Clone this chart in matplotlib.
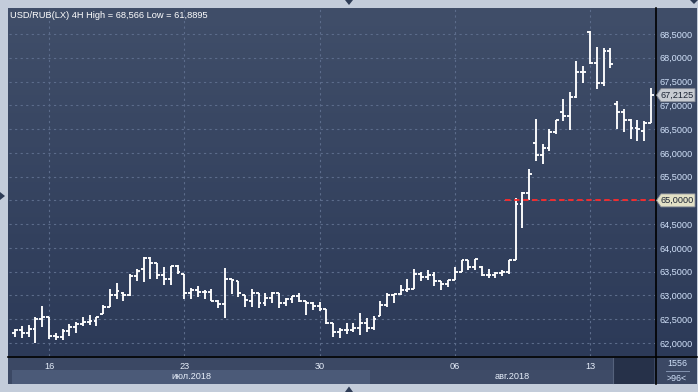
import numpy as np
import matplotlib
matplotlib.use("Agg")
import matplotlib.pyplot as plt
from matplotlib import transforms
from matplotlib.patches import Polygon, Rectangle
from matplotlib.ticker import FuncFormatter

plt.rcParams['font.family'] = ['Liberation Sans', 'DejaVu Sans']

# ---------------- data ----------------
opens = [62.22, 62.27, 62.22, 62.30, 62.50, 62.55, 62.15, 62.13, 62.25, 62.33,
         62.40, 62.45, 62.47, 62.62, 62.76, 63.00, 63.06, 63.00, 63.41, 63.55,
         63.78, 63.69, 63.43, 63.35, 63.63, 63.45, 63.05, 63.12, 63.07, 63.07,
         62.89, 62.82, 63.34, 63.30, 63.00, 62.89, 63.05, 62.84, 62.94, 63.05,
         62.84, 62.92, 62.99, 62.89, 62.84, 62.77, 62.72, 62.42, 62.24, 62.28,
         62.28, 62.31, 62.43, 62.31, 62.56, 62.80, 63.01, 63.04, 63.11, 63.14,
         63.46, 63.39, 63.44, 63.30, 63.25, 63.33, 63.49, 63.75, 63.60, 63.60,
         63.42, 63.42, 63.47, 63.49, 63.75, 64.92, 65.15, 66.20, 65.95, 66.11,
         66.43, 66.85, 66.78, 67.18, 67.70, 68.54, 67.89, 67.46, 68.15, 67.02,
         66.85, 66.69, 66.53, 66.47, 66.63]
highs = [62.30, 62.36, 62.38, 62.55, 62.77, 62.55, 62.22, 62.30, 62.41, 62.45,
         62.55, 62.58, 62.55, 62.79, 63.13, 63.27, 63.08, 63.45, 63.55, 63.80,
         63.81, 63.69, 63.60, 63.63, 63.64, 63.45, 63.15, 63.19, 63.11, 63.13,
         62.90, 63.57, 63.35, 63.30, 63.00, 63.13, 63.05, 63.06, 63.08, 63.05,
         62.94, 62.99, 63.05, 62.89, 62.87, 62.87, 62.72, 62.42, 62.31, 62.42,
         62.43, 62.63, 62.52, 62.56, 62.89, 63.06, 63.04, 63.22, 63.35, 63.56,
         63.50, 63.54, 63.49, 63.30, 63.33, 63.60, 63.75, 63.75, 63.77, 63.61,
         63.56, 63.49, 63.54, 63.75, 65.05, 65.18, 65.67, 66.72, 66.18, 66.51,
         66.70, 67.13, 67.28, 67.93, 67.82, 68.566, 68.23, 68.20, 68.20, 67.09,
         66.92, 66.71, 66.70, 66.67, 67.37]
lows = [62.12, 62.10, 62.12, 62.00, 62.34, 62.09, 62.06, 62.06, 62.14, 62.22,
        62.35, 62.38, 62.35, 62.62, 62.76, 62.93, 62.88, 62.98, 63.30, 63.28,
        63.34, 63.34, 63.22, 63.22, 63.45, 62.93, 62.93, 62.96, 62.93, 62.89,
        62.74, 62.52, 63.04, 62.96, 62.75, 62.75, 62.73, 62.77, 62.84, 62.73,
        62.77, 62.84, 62.87, 62.59, 62.70, 62.68, 62.40, 62.12, 62.10, 62.19,
        62.24, 62.17, 62.24, 62.28, 62.56, 62.76, 62.85, 63.00, 63.08, 63.14,
        63.30, 63.33, 63.19, 63.12, 63.18, 63.33, 63.49, 63.54, 63.53, 63.40,
        63.37, 63.37, 63.40, 63.45, 63.75, 64.41, 65.00, 65.83, 65.76, 66.04,
        66.39, 66.67, 66.48, 67.16, 67.47, 67.86, 67.35, 67.40, 67.79, 66.50,
        66.43, 66.29, 66.25, 66.25, 66.62]
closes = [62.27, 62.22, 62.30, 62.50, 62.55, 62.15, 62.13, 62.25, 62.33, 62.40,
          62.45, 62.47, 62.55, 62.76, 63.00, 63.10, 63.00, 63.41, 63.52, 63.78,
          63.69, 63.43, 63.35, 63.63, 63.49, 63.05, 63.12, 63.07, 63.07, 62.89,
          62.82, 63.34, 63.32, 63.05, 62.90, 63.05, 62.84, 62.94, 63.05, 62.84,
          62.92, 62.99, 62.89, 62.84, 62.77, 62.72, 62.42, 62.24, 62.28, 62.28,
          62.31, 62.43, 62.31, 62.50, 62.80, 63.01, 63.04, 63.11, 63.14, 63.46,
          63.39, 63.44, 63.30, 63.25, 63.33, 63.49, 63.75, 63.60, 63.77, 63.42,
          63.42, 63.47, 63.49, 63.75, 64.92, 65.15, 65.55, 65.95, 66.11, 66.43,
          66.69, 66.78, 67.18, 67.70, 67.70, 67.89, 67.46, 68.15, 67.86, 66.85,
          66.69, 66.53, 66.50, 66.63, 67.2125]

day_tick_idx = [5, 25, 45, 65, 85]
day_labels = ["16", "23", "30", "06", "13"]
month_labels = ["июл.2018", "авг.2018"]
month_start = [-0.5, 52.5]
month_end = [52.5, 94.6]
price_ticks = [62.0, 62.5, 63.0, 63.5, 64.0, 64.5, 65.0, 65.5, 66.0,
               66.5, 67.0, 67.5, 68.0, 68.5]
last_price = 67.2125
alert_price = 65.0
alert_start = 72.5
title = "USD/RUB(LX) 4H High = 68,566 Low = 61,8895"
bar_info = ["1556", ">96<"]

# ---------------- layout ----------------
W, H = 698, 392
fig = plt.figure(figsize=(W / 100, H / 100), dpi=100)
fig.patch.set_facecolor('#c3ccda')

PL, PR, PT, PB = 9, 655, 8, 356  # plot area in pixels (top-left origin)

ax_bg = fig.add_axes([0, 0, 1, 1], zorder=0)
ax_bg.set_xlim(0, W)
ax_bg.set_ylim(H, 0)
ax_bg.axis('off')

# dark gradient area
top_c = np.array([0x40, 0x4e, 0x69]) / 255
bot_c = np.array([0x2c, 0x3a, 0x58]) / 255
t = np.linspace(0, 1, 256)[:, None]
grad = (top_c[None, :] * (1 - t) + bot_c[None, :] * t)[:, None, :]
ax_bg.imshow(grad, extent=(8, 697, PB, PT), aspect='auto', interpolation='bilinear', zorder=0)
ax_bg.add_patch(Rectangle((8, PB), 689, 384 - PB, facecolor='#3b4864', edgecolor='none', zorder=1))

# main axes
ax = fig.add_axes([PL / W, (H - PB) / H, (PR - PL) / W, (PB - PT) / H], zorder=1)
ax.set_facecolor('none')
for s in ax.spines.values():
    s.set_visible(False)

ax.set_xlim((PL - 15.2) / 6.7625, (PR - 15.2) / 6.7625)
pxu = 47.538
ax.set_ylim(62.0 - (PB - 343) / pxu, 68.5 + (34 - PT) / pxu)

x = np.arange(len(opens))
tick = 0.42
ax.vlines(x, lows, highs, color='white', lw=1.35, zorder=3)
ax.hlines(opens, x - tick, x, color='white', lw=1.35, zorder=3)
ax.hlines(closes, x, x + tick, color='white', lw=1.35, zorder=3)


def fmt(v, p):
    if abs(v - alert_price) < 1e-9:
        return ''
    return f"{v:.4f}".replace('.', ',')


ax.set_yticks(price_ticks)
ax.yaxis.tick_right()
ax.yaxis.set_major_formatter(FuncFormatter(fmt))
ax.tick_params(axis='y', length=0, pad=3, labelsize=6.6, labelcolor='#d2e2fa')
ax.set_xticks(day_tick_idx)
ax.set_xticklabels(day_labels)
ax.tick_params(axis='x', length=0, pad=4, labelsize=6.6, labelcolor='#e6eefa')
ax.set_axisbelow(True)
ax.grid(True, color='#5c6c8b', lw=0.8, ls=(0, (2, 3)))

# alert line
ax.hlines(alert_price, alert_start, ax.get_xlim()[1], color='#ff2a2a', lw=1.3,
          linestyles=(0, (3, 2)), zorder=4)

# month bands below axis
bt = transforms.blended_transform_factory(ax.transData, ax_bg.transData)
band_cols = ['#4b5a78', '#3e4b67']
for lab, s0, s1, col in zip(month_labels, month_start, month_end, band_cols):
    ax_bg.add_patch(Rectangle((s0, 370), s1 - s0, 13.5, transform=bt,
                              facecolor=col, edgecolor='none', zorder=2))
    ax_bg.text((s0 + s1) / 2, 376.5, lab, transform=bt, ha='center', va='center',
               fontsize=6.6, color='#e6eefa', zorder=3)
ax_bg.add_patch(Rectangle((613, 358), 41, 25.5, facecolor='#263149', edgecolor='none', zorder=4))
ax_bg.plot([613, 613], [358, 383], color='#55627c', lw=0.8, zorder=5)

# overlay
ax_ov = fig.add_axes([0, 0, 1, 1], zorder=3)
ax_ov.set_xlim(0, W)
ax_ov.set_ylim(H, 0)
ax_ov.axis('off')
ax_ov.set_facecolor('none')

ax_ov.plot([PR + 0.5, PR + 0.5], [PT, 384], color='black', lw=1.2)
ax_ov.plot([8, 697], [PB + 0.5, PB + 0.5], color='black', lw=1.2)

ax_ov.text(10, 15, title, color='white', fontsize=6.7, ha='left', va='center')

# price boxes
pt = transforms.blended_transform_factory(ax_ov.transData, ax.transData)
hh = 6.5 / pxu
for val, fc in [(last_price, '#c8ccd2'), (alert_price, '#e3e1c6')]:
    poly = Polygon([(656.5, val), (661, val + hh), (695, val + hh), (695, val - hh), (661, val - hh)],
                   closed=True, transform=pt, facecolor=fc, edgecolor='#8a8f9a', lw=0.6, zorder=5)
    ax_ov.add_patch(poly)
    ax_ov.text(677.5, val, f"{val:.4f}".replace('.', ','), transform=pt, ha='center', va='center',
               fontsize=6.6, color='#1c2434', zorder=6)

# bar count info
ax_ov.text(677, 364, bar_info[0], ha='center', va='center', fontsize=6.4, color='#d2e2fa')
ax_ov.text(677, 378.5, bar_info[1], ha='center', va='center', fontsize=6.4, color='#d2e2fa')
ax_ov.plot([666, 689], [371, 371], color='#8393b0', lw=0.7)

# small frame markers
for pts in ([(345, 0), (353, 0), (349, 5)], [(345, 392), (353, 392), (349, 386.5)],
            [(0, 192), (0, 200), (5, 196)], [(690, 0), (698, 0), (694, 4)]):
    ax_ov.add_patch(Polygon(pts, closed=True, facecolor='#2e3c56', edgecolor='none'))

fig.savefig('out.png', dpi=100)
